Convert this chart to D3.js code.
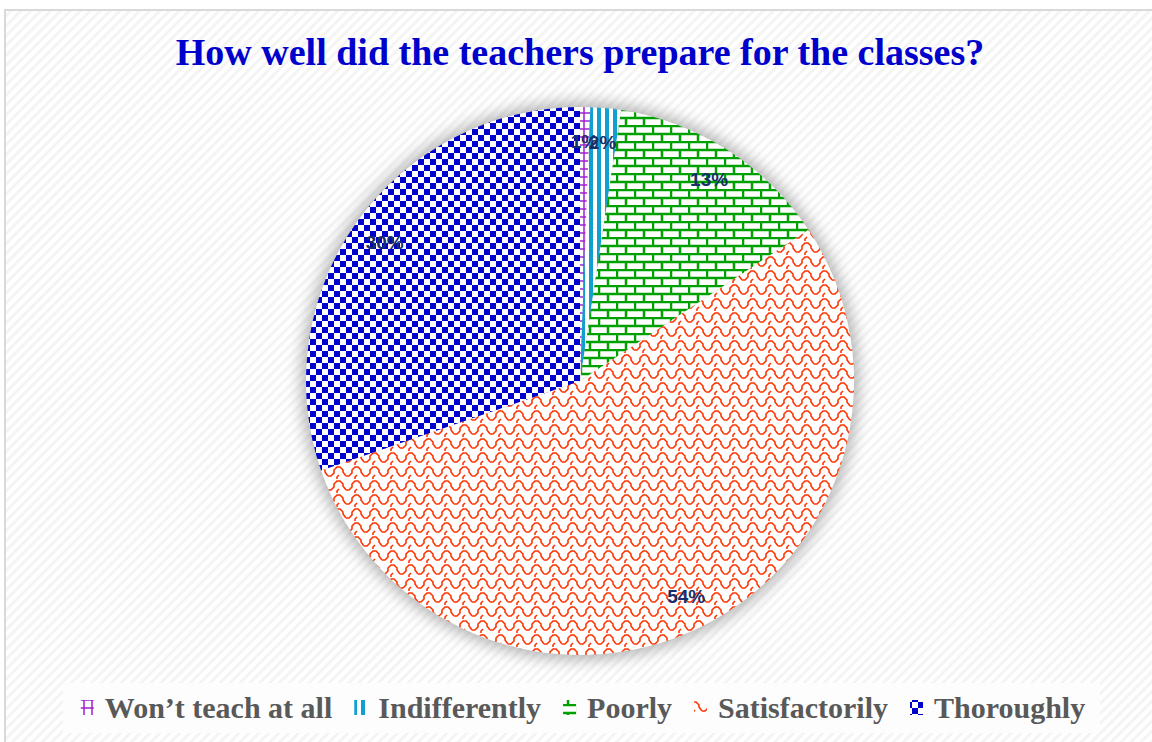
<!DOCTYPE html>
<html>
<head>
<meta charset="utf-8">
<script src="https://cdn.jsdelivr.net/npm/d3@7"></script>
<style>
  html, body { margin: 0; padding: 0; background: #fff; }
  svg { display: block; }
</style>
</head>
<body>
<div id="canvas"></div>
<script>
// ---- DATA ----
var categories = ["Won\u2019t teach at all", "Indifferently", "Poorly", "Satisfactorily", "Thoroughly"];
var shares = [0.6, 1.8, 13.3, 54.0, 30.3];
var shareLabels = ["1%", "2%", "13%", "54%", "30%"];
var chartTitle = "How well did the teachers prepare for the classes?";

// ---- CONVENTIONS ----
var outerWidth = 1152,
    outerHeight = 742;

var svg = d3.select('#canvas')
    .append('svg')
    .attr('width', outerWidth)
    .attr('height', outerHeight);

var defs = svg.append('defs');

// background diagonal stripes
var bg = defs.append('pattern')
    .attr('id', 'bgStripe')
    .attr('patternUnits', 'userSpaceOnUse')
    .attr('width', 7).attr('height', 7)
    .attr('patternTransform', 'rotate(45)');
bg.append('rect').attr('width', 7).attr('height', 7).attr('fill', '#ffffff');
bg.append('rect').attr('width', 3).attr('height', 7).attr('fill', '#f4f4f4');

// ---- SLICE PATTERNS ----
var patternIds = ['pWont', 'pIndiff', 'pPoor', 'pSatis', 'pThor'];

// won't teach: purple grid
var p0 = defs.append('pattern').attr('id', 'pWont')
    .attr('patternUnits', 'userSpaceOnUse').attr('width', 8).attr('height', 8);
p0.append('rect').attr('width', 8).attr('height', 8).attr('fill', '#fff');
p0.append('path').attr('d', 'M0,4H8M4,0V8').attr('stroke', '#a020d0').attr('stroke-width', 1.5);

// indifferently: wide vertical stripes
var p1 = defs.append('pattern').attr('id', 'pIndiff')
    .attr('patternUnits', 'userSpaceOnUse').attr('width', 8).attr('height', 8);
p1.append('rect').attr('width', 8).attr('height', 8).attr('fill', '#fff');
p1.append('rect').attr('x', 1).attr('width', 4).attr('height', 8).attr('fill', '#10a0d0');

// poorly: green bricks
var p2 = defs.append('pattern').attr('id', 'pPoor')
    .attr('patternUnits', 'userSpaceOnUse').attr('width', 18).attr('height', 16);
p2.append('rect').attr('width', 18).attr('height', 16).attr('fill', '#fff');
p2.append('path')
    .attr('d', 'M0,1H18M0,9H18M1,1V9M10,9V16')
    .attr('stroke', '#00a000').attr('stroke-width', 2.5).attr('fill', 'none');

// satisfactorily: red shingles
var p3 = defs.append('pattern').attr('id', 'pSatis')
    .attr('patternUnits', 'userSpaceOnUse').attr('width', 18).attr('height', 14);
p3.append('rect').attr('width', 18).attr('height', 14).attr('fill', '#fff');
p3.append('path')
    .attr('d', 'M0,11 L3,11 L6,8 L6,5 L9,2 L12,2 L15,5 L15,7 L18,11 M9,14 L9,12 L11,10')
    .attr('stroke', '#ff3300').attr('stroke-width', 1.6).attr('fill', 'none');

// thoroughly: blue checkerboard
var p4 = defs.append('pattern').attr('id', 'pThor')
    .attr('patternUnits', 'userSpaceOnUse').attr('width', 12).attr('height', 12);
p4.append('rect').attr('width', 12).attr('height', 12).attr('fill', '#fff');
p4.append('rect').attr('width', 6).attr('height', 6).attr('fill', '#0000cc');
p4.append('rect').attr('x', 6).attr('y', 6).attr('width', 6).attr('height', 6).attr('fill', '#0000cc');

// soft glow shadow
var glow = defs.append('filter').attr('id', 'glow')
    .attr('x', '-20%').attr('y', '-20%').attr('width', '140%').attr('height', '140%');
glow.append('feGaussianBlur').attr('stdDeviation', 8);

// ---- BACKGROUND ----
svg.append('rect')
    .attr('x', 5).attr('y', 10)
    .attr('width', 1165).attr('height', 760)
    .attr('fill', 'url(#bgStripe)')
    .attr('stroke', '#d9d9d9').attr('stroke-width', 2);

// ---- TITLE ----
svg.append('text')
    .attr('x', 580).attr('y', 65)
    .attr('text-anchor', 'middle')
    .style('font-family', '"Liberation Serif", "Times New Roman", serif')
    .style('font-weight', 'bold')
    .style('font-size', '38px')
    .style('fill', '#0000cc')
    .text(chartTitle);

// ---- PIE ----
var cx = 580, cy = 381, radius = 274;

var pieGen = d3.pie()
    .sort(null)
    .value(function(d){ return d; });

var arcGen = d3.arc()
    .innerRadius(0)
    .outerRadius(radius);

var labelArc = d3.arc()
    .innerRadius(radius * 0.875)
    .outerRadius(radius * 0.875);

var plot = svg.append('g')
    .attr('transform', 'translate(' + cx + ',' + cy + ')');

plot.append('circle')
    .attr('r', radius + 4)
    .attr('fill', '#7a7a7a')
    .attr('opacity', 0.6)
    .attr('filter', 'url(#glow)');

var arcs = pieGen(shares);

plot.selectAll('.slice')
    .data(arcs)
    .enter()
    .append('path')
    .attr('class', 'slice')
    .attr('d', arcGen)
    .attr('fill', function(d, i){ return 'url(#' + patternIds[i] + ')'; });

plot.selectAll('.pct')
    .data(arcs)
    .enter()
    .append('text')
    .attr('class', 'pct')
    .attr('transform', function(d){ return 'translate(' + labelArc.centroid(d) + ')'; })
    .attr('text-anchor', 'middle')
    .attr('dy', '0.36em')
    .style('font-family', '"Liberation Sans", Arial, sans-serif')
    .style('font-weight', 'bold')
    .style('font-size', '19px')
    .style('fill', '#18306a')
    .text(function(d, i){ return shareLabels[i]; });

// ---- LEGEND ----
svg.append('rect')
    .attr('x', 63).attr('y', 683)
    .attr('width', 1037).attr('height', 50)
    .attr('fill', '#fdfdfd');

var legend = svg.append('g').attr('class', 'legend');

var items = legend.selectAll('.item')
    .data(categories)
    .enter()
    .append('g')
    .attr('class', 'item');

items.append('rect')
    .attr('width', 13).attr('height', 15)
    .attr('y', 700)
    .attr('fill', function(d, i){ return 'url(#' + patternIds[i] + ')'; });

items.append('text')
    .attr('y', 718)
    .style('font-family', '"Liberation Serif", "Times New Roman", serif')
    .style('font-weight', 'bold')
    .style('font-size', '30px')
    .style('fill', '#595959')
    .text(function(d){ return d; });

// lay out the items side by side, centred
var iconGap = 24, itemGap = 22;
var widths = [];
items.select('text').each(function(){ widths.push(this.getComputedTextLength()); });
var total = d3.sum(widths, function(w){ return iconGap + w; }) + itemGap * (widths.length - 1);
var xPos = cx + 3 - total / 2;
items.each(function(d, i){
    var g = d3.select(this);
    g.select('rect').attr('x', xPos);
    g.select('text').attr('x', xPos + iconGap);
    xPos += iconGap + widths[i] + itemGap;
});
</script>
</body>
</html>
